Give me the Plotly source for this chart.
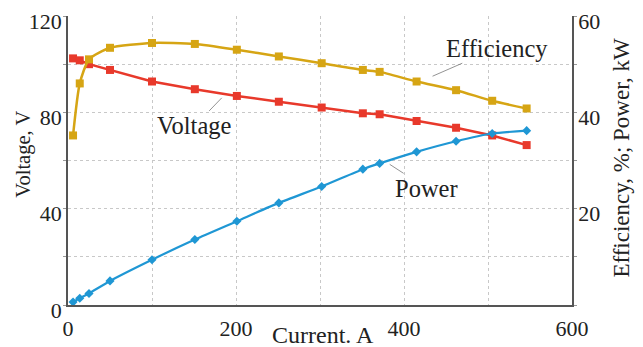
import plotly.graph_objects as go

current = [6, 14, 25, 50, 100, 151, 201, 251, 302, 351, 371, 415, 462, 505, 546]
voltage = [102.4, 101.6, 100.0, 97.6, 92.8, 89.6, 86.8, 84.4, 82.0, 79.6, 79.2, 76.4, 73.6, 70.4, 66.4]
efficiency = [35.2, 46.0, 51.0, 53.4, 54.4, 54.2, 53.0, 51.6, 50.2, 48.8, 48.4, 46.4, 44.6, 42.4, 40.8]
power = [0.6, 1.4, 2.4, 5.0, 9.4, 13.6, 17.4, 21.2, 24.6, 28.2, 29.4, 31.8, 34.0, 35.6, 36.2]

RED = "#E8392B"
GOLD = "#D6A514"
BLUE = "#1F97D4"
FONT = "Liberation Serif"
TXT = "#222"

fig = go.Figure()
fig.add_trace(go.Scatter(x=current, y=efficiency, yaxis="y2", mode="lines+markers",
                         line=dict(color=GOLD, width=2.5, shape="spline", smoothing=0.6),
                         marker=dict(symbol="square", size=8, color=GOLD), name="Efficiency"))
fig.add_trace(go.Scatter(x=current, y=voltage, mode="lines+markers",
                         line=dict(color=RED, width=2.5),
                         marker=dict(symbol="square", size=8, color=RED), name="Voltage"))
fig.add_trace(go.Scatter(x=current, y=power, yaxis="y2", mode="lines+markers",
                         line=dict(color=BLUE, width=2.2, shape="spline", smoothing=0.6),
                         marker=dict(symbol="diamond", size=7, color=BLUE), name="Power"))

ann_font = dict(family=FONT, size=24.5, color=TXT)
labels = [
    dict(x=434, y=47.5, xref="x", yref="y2", text="Efficiency", ax=64, ay=-28),
    dict(x=183, y=86, xref="x", yref="y", text="Voltage", ax=-27, ay=28),
    dict(x=383, y=29.2, xref="x", yref="y2", text="Power", ax=37, ay=24),
]
for a in labels:
    a.update(showarrow=True, arrowhead=0, arrowwidth=0.8, arrowcolor="#777",
             font=ann_font, standoff=0)

titles = [
    dict(text="Voltage, V", xref="paper", yref="paper", x=0, y=0.52, xshift=-44,
         xanchor="center", yanchor="middle",
         textangle=-90, showarrow=False, font=dict(family=FONT, size=20.5, color=TXT)),
    dict(text="Efficiency, %; Power, kW", xref="paper", yref="paper", x=1, y=0.51,
         xshift=50, xanchor="center", yanchor="middle", textangle=-90, showarrow=False,
         font=dict(family=FONT, size=23, color=TXT)),
    dict(text="Current. A", xref="paper", yref="paper", x=0.506, y=0, yshift=-30,
         xanchor="center", yanchor="middle", showarrow=False,
         font=dict(family=FONT, size=24, color=TXT)),
]

grid = dict(showgrid=True, gridcolor="#c8c8c8", griddash="dot", gridwidth=1)

fig.update_layout(
    width=635, height=339,
    margin=dict(l=60, r=71, t=8, b=42),
    paper_bgcolor="white", plot_bgcolor="white",
    showlegend=False,
    font=dict(family=FONT, size=22, color=TXT),
    annotations=labels + titles,
    xaxis=dict(range=[0, 600], tickvals=[0, 200, 400, 600], **grid,
               minor=dict(dtick=100, showgrid=True, gridcolor="#c8c8c8", griddash="dot"),
               showline=True, linecolor="#555", linewidth=1.5, zeroline=False,
               automargin=False, ticks="", ticklabelstandoff=3,
               ticklabeloverflow="allow",
               tickfont=dict(family=FONT, size=22)),
    yaxis=dict(range=[0, 120], tickvals=[0, 40, 80, 120], **grid,
               minor=dict(dtick=20, showgrid=True, gridcolor="#c8c8c8", griddash="dot",
                          ticks="outside", ticklen=3, tickcolor="#999"),
               showline=True, linecolor="#555", linewidth=1.5, zeroline=False,
               automargin=False, ticks="", ticklabelstandoff=0, ticklabelshift=5,
               ticklabeloverflow="allow",
               tickfont=dict(family=FONT, size=22)),
    yaxis2=dict(range=[0, 60], overlaying="y", side="right", tickvals=[20, 40, 60],
                showgrid=False, showline=True, linecolor="#555", linewidth=1.5,
                zeroline=False, automargin=False, ticks="", ticklabelstandoff=0,
                ticklabelshift=5, ticklabeloverflow="allow",
                minor=dict(dtick=10, ticks="outside", ticklen=3, tickcolor="#999"),
                tickfont=dict(family=FONT, size=22)),
)

fig.write_html("out.html")
